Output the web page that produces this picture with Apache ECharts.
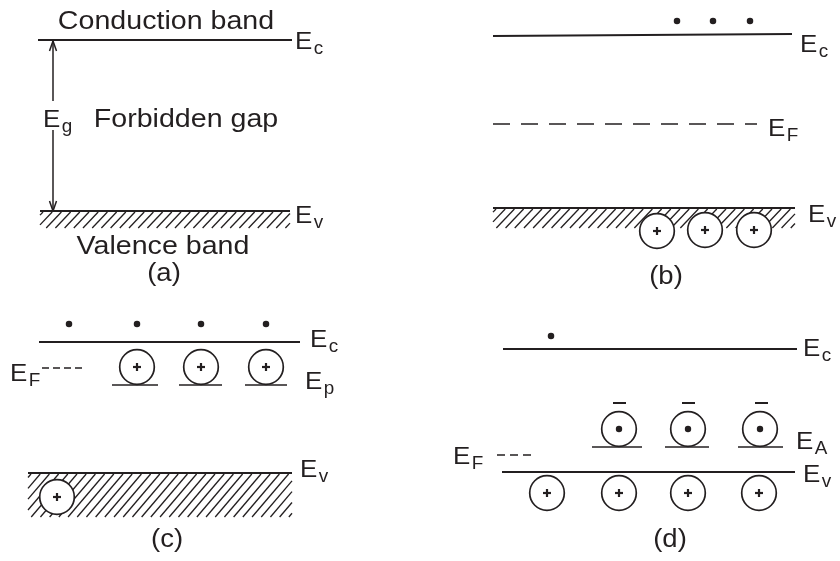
<!DOCTYPE html>
<html>
<head>
<meta charset="utf-8">
<script src="https://cdn.jsdelivr.net/npm/echarts@6/dist/echarts.min.js"></script>
<style>html,body{margin:0;padding:0;background:#fff}#c{width:840px;height:561px}</style>
</head>
<body>
<div id="c"></div>
<script>
// ---- diagram data (drawing coordinates on a 840 x 561 plane, y downward) ----
const bandEdges = [
  [38, 40, 292, 40], [40, 211, 290, 211],
  [493, 36, 792, 34], [493, 208, 795, 208],
  [39, 342, 300, 342], [28, 473, 292, 473],
  [503, 349, 797, 349], [502, 472, 795, 472]
];
const impurityLevels = [
  [112, 158, 385], [179, 222, 385], [245, 287, 385],
  [592, 642, 447], [665, 709, 447], [738, 783, 447]
];
const fermiLevels = [[493, 757, 124], [42, 82, 368], [497, 533, 455]];
const minusMarks = [[613, 626, 403], [682, 695, 403], [755, 768, 403]];
const hatchBands = [[40, 290, 212, 228], [493, 795, 209, 228], [28, 292, 474, 517]];
const plusCircles = [
  [657, 231], [705, 230], [754, 230],
  [137, 367], [201, 367], [266, 367], [57, 497],
  [547, 493], [619, 493], [688, 493], [759, 493]
];
const dotCircles = [[619, 429], [688, 429], [760, 429]];
const electrons = [[677, 21], [713, 21], [750, 21], [69, 324], [137, 324], [201, 324], [266, 324], [551, 336]];
const gapArrow = [[53, 41, 211, 101, 130]];
const captions = [
  ['Conduction band', 166, 30], ['Forbidden gap', 186, 128], ['Valence band', 163, 255],
  ['(a)', 164, 282], ['(b)', 666, 285], ['(c)', 167, 548], ['(d)', 670, 548]
];
const levelLabels = [
  ['E', 'c', 295, 50], ['E', 'v', 295, 224], ['E', 'g', 43, 128],
  ['E', 'c', 800, 53], ['E', 'F', 768, 137], ['E', 'v', 808, 223],
  ['E', 'c', 310, 348], ['E', 'F', 10, 382], ['E', 'p', 305, 390], ['E', 'v', 300, 478],
  ['E', 'c', 803, 357], ['E', 'A', 796, 450], ['E', 'F', 453, 465], ['E', 'v', 803, 483]
];

// ---- rendering ----
const INK = '#231f20';
const FONT = '"Liberation Sans", Arial, Helvetica, sans-serif';
const fermiDash = [[17, 11], [7, 4], [8, 5]];
const MID = 0.3; // em fraction between baseline and the 'middle' text anchor

function ln(api, x1, y1, x2, y2, extra) {
  const p = api.coord([x1, y1]), q = api.coord([x2, y2]);
  return Object.assign({
    type: 'line',
    shape: { x1: p[0], y1: p[1], x2: q[0], y2: q[1] },
    style: { stroke: INK, lineWidth: 1.6, lineCap: 'butt' }
  }, extra || {});
}
function idx(arr) { return arr.map(function (_, i) { return [i, 0]; }); }
function custom(name, arr, render, z) {
  return { type: 'custom', name: name, coordinateSystem: 'cartesian2d', data: idx(arr), z: z || 2, silent: true, clip: false,
    renderItem: function (params, api) { return render(arr[params.dataIndex], api); } };
}

const series = [
  custom('hatch', hatchBands, function (b, api) {
    const tl = api.coord([b[0], b[2]]), br = api.coord([b[1], b[3]]);
    const h = br[1] - tl[1];
    const slope = h > 30 ? 0.85 : 0.95;
    const dx = h * slope;
    const children = [];
    for (let x0 = tl[0] - dx + 3; x0 < br[0]; x0 += 9.2) {
      let xa = x0, ya = br[1], xb = x0 + dx, yb = tl[1];
      if (xa < tl[0]) { ya = br[1] - (tl[0] - x0) / slope; xa = tl[0]; }
      if (xb > br[0]) { yb = br[1] - (br[0] - x0) / slope; xb = br[0]; }
      if (xb - xa < 1) continue;
      children.push({ type: 'line', shape: { x1: xa, y1: ya, x2: xb, y2: yb }, style: { stroke: INK, lineWidth: 1.3 } });
    }
    return { type: 'group', children: children };
  }, 1),
  custom('bands', bandEdges, function (s, api) { return ln(api, s[0], s[1], s[2], s[3], { style: { stroke: INK, lineWidth: 1.8 } }); }),
  custom('impurity', impurityLevels, function (s, api) { return ln(api, s[0], s[2], s[1], s[2]); }),
  custom('minus', minusMarks, function (s, api) { return ln(api, s[0], s[2], s[1], s[2], { style: { stroke: INK, lineWidth: 2 } }); }),
  {
    type: 'custom', name: 'fermi', coordinateSystem: 'cartesian2d', data: idx(fermiLevels), z: 2, silent: true, clip: false,
    renderItem: function (params, api) {
      const s = fermiLevels[params.dataIndex];
      return ln(api, s[0], s[2], s[1], s[2], { style: { stroke: INK, lineWidth: 1.6, lineDash: fermiDash[params.dataIndex] } });
    }
  },
  custom('arrow', gapArrow, function (a, api) {
    const x = a[0];
    const st = { stroke: INK, lineWidth: 1.5, fill: 'none' };
    return { type: 'group', children: [
      ln(api, x, a[1], x, a[3], { style: st }),
      ln(api, x, a[4], x, a[2], { style: st }),
      ln(api, x, a[1], x - 3.5, a[1] + 10, { style: st }),
      ln(api, x, a[1], x + 3.5, a[1] + 10, { style: st }),
      ln(api, x, a[2], x - 3.5, a[2] - 10, { style: st }),
      ln(api, x, a[2], x + 3.5, a[2] - 10, { style: st })
    ] };
  }),
  custom('plus', plusCircles, function (c, api) {
    const p = api.coord([c[0], c[1]]);
    return { type: 'group', children: [
      { type: 'circle', shape: { cx: p[0], cy: p[1], r: 17.3 }, style: { fill: '#fff', stroke: INK, lineWidth: 1.7 } },
      { type: 'line', shape: { x1: p[0] - 4, y1: p[1], x2: p[0] + 4, y2: p[1] }, style: { stroke: INK, lineWidth: 2.2 } },
      { type: 'line', shape: { x1: p[0], y1: p[1] - 4, x2: p[0], y2: p[1] + 4 }, style: { stroke: INK, lineWidth: 2.2 } }
    ] };
  }, 3),
  custom('dotc', dotCircles, function (c, api) {
    const p = api.coord([c[0], c[1]]);
    return { type: 'group', children: [
      { type: 'circle', shape: { cx: p[0], cy: p[1], r: 17.3 }, style: { fill: '#fff', stroke: INK, lineWidth: 1.7 } },
      { type: 'circle', shape: { cx: p[0], cy: p[1], r: 3.2 }, style: { fill: INK } }
    ] };
  }, 3),
  { type: 'scatter', name: 'electrons', data: electrons, symbol: 'circle', symbolSize: 6.5, itemStyle: { color: INK, opacity: 1 }, z: 3, silent: true },
  custom('captions', captions, function (t, api) {
    const p = api.coord([t[1], t[2]]);
    const fs = /^\(/.test(t[0]) ? 25 : 26;
    return { type: 'text', x: p[0], y: p[1] - MID * fs, scaleX: 1.1,
      style: { text: t[0], fill: INK, font: fs + 'px ' + FONT, textAlign: 'center', textVerticalAlign: 'middle' } };
  }, 4),
  custom('levels', levelLabels, function (t, api) {
    const p = api.coord([t[2], t[3]]);
    const sx = 1.08, fe = 24, fsub = 18;
    const ew = 0.667 * fe * sx;
    return { type: 'group', children: [
      { type: 'text', x: p[0], y: p[1] - MID * fe, scaleX: sx,
        style: { text: t[0], fill: INK, font: fe + 'px ' + FONT, textAlign: 'left', textVerticalAlign: 'middle' } },
      { type: 'text', x: p[0] + ew + 1.5, y: p[1] + 4 - MID * fsub, scaleX: 1.05,
        style: { text: t[1], fill: INK, font: fsub + 'px ' + FONT, textAlign: 'left', textVerticalAlign: 'middle' } }
    ] };
  }, 4)
];

const chart = echarts.init(document.getElementById('c'), null, { renderer: 'canvas' });
chart.setOption({
  animation: false,
  backgroundColor: '#fff',
  grid: { left: 0, right: 0, top: 0, bottom: 0 },
  xAxis: { type: 'value', min: 0, max: 840, show: false },
  yAxis: { type: 'value', min: 0, max: 561, inverse: true, show: false },
  series: series
});
</script>
</body>
</html>
